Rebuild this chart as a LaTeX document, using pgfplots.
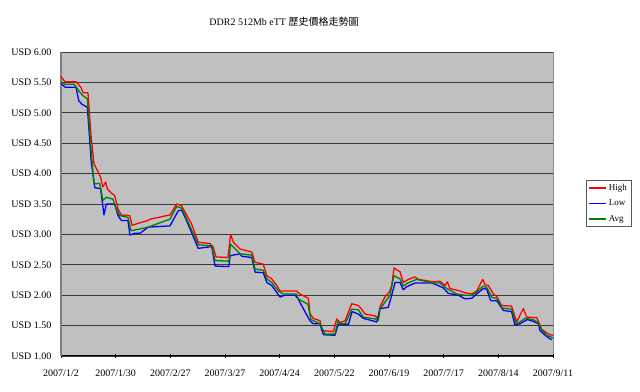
\documentclass[border=0pt]{standalone}
\usepackage{pgfplots}
\pgfplotsset{compat=1.18}
\usepackage{fontspec}
\setmainfont{Liberation Serif}
\newfontfamily\cjk{Noto Sans CJK TC}
\definecolor{plotbg}{HTML}{C0C0C0}
\definecolor{gridc}{HTML}{3A3A3A}
\definecolor{xlred}{HTML}{FF0000}
\definecolor{xlblue}{HTML}{0000FF}
\definecolor{xlgreen}{HTML}{008000}
\begin{document}
\begin{tikzpicture}[x=1pt,y=1pt]
\useasboundingbox (0,0) rectangle (640,391);
\node[font=\fontsize{10}{12}\selectfont] at (284,369) {DDR2 512Mb eTT {\cjk 歷史價格走勢圖}};
\begin{axis}[
  at={(61pt,35pt)}, anchor=south west,
  scale only axis, width=492pt, height=304pt,
  xmin=0, xmax=252, ymin=1, ymax=6,
  axis lines*=left,
  axis background/.style={fill=plotbg, draw=gray!90},
  x axis line style={black, line width=1pt, -},
  y axis line style={gray, line width=1.6pt, -},
  xtick={0,28,56,84,112,140,168,196,224,252},
  xticklabels={2007/1/2,2007/1/30,2007/2/27,2007/3/27,2007/4/24,2007/5/22,2007/6/19,2007/7/17,2007/8/14,2007/9/11},
  ytick={1,1.5,...,6},
  yticklabel={USD \pgfmathprintnumber[fixed,fixed zerofill,precision=2]{\tick}},
  /pgf/number format/assume math mode=true,
  ymajorgrids, grid style={gridc, line width=0.9pt},
  xtick style={black, line width=0.6pt},
  ytick style={draw=none},
  tick align=center, major tick length=4pt,
  tick label style={font=\fontsize{10}{12}\selectfont},
  xticklabel style={yshift=-8pt},
  yticklabel style={xshift=-4pt},
  legend style={at={(1.0665,0.502)}, anchor=west, draw=gray!70!black, fill=white,
    font=\fontsize{9}{11}\selectfont, inner sep=2pt, row sep=4pt},
  legend cell align=left,
]
\addlegendimage{draw=xlred, line width=1.6pt}
\addlegendentry{High}
\addlegendimage{draw=xlblue, line width=1.9pt}
\addlegendentry{Low}
\addlegendimage{draw=xlgreen, line width=1.6pt}
\addlegendentry{Avg}
\addplot[forget plot, color=xlred, line width=1.3pt, line join=round] coordinates {
(0,5.60) (2.0,5.51) (7.7,5.51) (10.2,5.42) (11.3,5.33) (13.8,5.33) (15.4,4.62)
(16.9,4.16) (19.0,4.03) (20.3,3.94) (21.4,3.78) (22.9,3.86) (23.7,3.75) (25.8,3.68)
(27.5,3.64) (29.2,3.42) (30.9,3.32) (35.2,3.31) (36.4,3.15) (40.3,3.19) (44.6,3.23)
(45.6,3.25) (55.8,3.32) (59.3,3.50) (61.8,3.47) (63.5,3.37) (66.9,3.17) (70.3,2.87)
(76.3,2.85) (78.0,2.79) (79.4,2.63) (85.5,2.62) (86.9,3.00) (88.3,2.87) (91.7,2.76)
(97.7,2.71) (99.4,2.54) (103.6,2.51) (105.4,2.32) (107.9,2.27) (110.5,2.16) (112.2,2.07)
(120.7,2.07) (122.4,2.02) (126.7,1.95) (127.5,1.70) (129.1,1.62) (132.7,1.58) (133.5,1.42)
(139.5,1.40) (141.2,1.61) (142.9,1.55) (145.5,1.58) (148.9,1.86) (152.3,1.83) (154.0,1.77)
(155.7,1.69) (160.8,1.66) (162.5,1.61) (163.4,1.81) (165.9,1.97) (168.5,2.07) (169.4,2.16)
(170.6,2.45) (172.8,2.40) (173.6,2.39) (175.3,2.21) (177.9,2.26) (181.3,2.30) (183.0,2.26)
(190.7,2.22) (194.1,2.23) (196.7,2.16) (197.9,2.22) (199.2,2.11) (204.4,2.07) (206.9,2.04)
(210.4,2.02) (212.9,2.07) (216.0,2.26) (217.2,2.17) (218.9,2.16) (221.4,2.02) (223.2,1.98)
(225.7,1.83) (230.8,1.82) (233.4,1.56) (236.8,1.78) (238.5,1.64) (243.7,1.63) (246.2,1.44)
(248.8,1.38) (250.5,1.35) (252,1.34)
};
\addplot[forget plot, color=xlblue, line width=1.3pt, line join=round] coordinates {
(0,5.48) (2.2,5.42) (7.7,5.42) (9.1,5.20) (10.8,5.14) (13.5,5.09) (15.5,4.19)
(17.3,3.77) (20.3,3.75) (22.0,3.32) (23.2,3.50) (27.5,3.50) (29.2,3.31) (30.9,3.23)
(34.3,3.23) (35.3,2.99) (37.9,3.02) (40.5,3.02) (44.7,3.12) (55.8,3.14) (60.1,3.39)
(61.8,3.40) (64.0,3.25) (70.3,2.77) (77.2,2.80) (78.9,2.48) (86.0,2.47) (86.6,2.65)
(91.7,2.68) (92.6,2.64) (97.7,2.62) (99.4,2.38) (103.6,2.37) (105.4,2.21) (107.9,2.16)
(112.2,1.97) (114.7,2.00) (119.9,2.00) (121.5,1.94) (122.4,1.88) (127.5,1.58) (129.2,1.53)
(132.7,1.53) (134.4,1.35) (140.3,1.34) (142.0,1.52) (147.2,1.52) (149.1,1.73) (152.3,1.69)
(154.8,1.62) (161.7,1.56) (163.4,1.78) (167.6,1.80) (169.4,2.00) (171.1,2.21) (173.6,2.21)
(175.3,2.09) (177.1,2.14) (181.3,2.20) (189.9,2.20) (192.4,2.17) (195.8,2.12) (198.4,2.03)
(203.5,2.00) (206.9,1.94) (210.4,1.95) (212.9,2.02) (216.3,2.11) (218.0,2.10) (220.1,1.91)
(223.2,1.91) (226.5,1.75) (230.8,1.73) (232.5,1.51) (235.1,1.53) (238.8,1.60) (241.9,1.57)
(244.5,1.53) (245.3,1.42) (248.4,1.33) (250.5,1.28) (251.5,1.27)
};
\addplot[forget plot, color=xlgreen, line width=1.3pt, line join=round] coordinates {
(0,5.51) (2.0,5.47) (6.7,5.47) (9.6,5.34) (11.3,5.28) (13.5,5.23) (15.5,4.36)
(16.9,3.83) (19.8,3.84) (21.5,3.56) (23.2,3.61) (26.6,3.58) (28.3,3.42) (30.1,3.31)
(34.3,3.28) (35.9,3.06) (40.5,3.09) (44.6,3.12) (55.8,3.25) (59.3,3.46) (61.8,3.43)
(64.0,3.28) (70.3,2.83) (77.2,2.81) (78.9,2.57) (86.0,2.56) (86.8,2.84) (91.7,2.68)
(97.7,2.66) (99.4,2.43) (103.6,2.41) (105.4,2.27) (107.9,2.21) (111.3,2.07) (113.7,2.02)
(120.7,2.02) (121.5,1.94) (126.5,1.85) (128.0,1.60) (132.7,1.53) (135.2,1.36) (140.3,1.36)
(141.9,1.58) (142.9,1.53) (145.5,1.53) (148.9,1.77) (152.3,1.76) (154.8,1.64) (160.8,1.61)
(162.5,1.58) (163.4,1.77) (168.5,2.00) (170.2,2.27) (170.6,2.32) (173.6,2.27) (175.3,2.15)
(177.6,2.20) (182.2,2.26) (190.5,2.20) (194.1,2.20) (197.6,2.11) (202.7,2.02) (206.9,2.00)
(210.4,2.00) (212.9,2.05) (216.1,2.15) (218.0,2.13) (220.8,1.96) (223.2,1.95) (225.9,1.79)
(230.8,1.77) (233.1,1.53) (235.1,1.56) (237.7,1.62) (241.8,1.60) (244.3,1.55) (246.2,1.43)
(248.8,1.34) (252,1.30)
};
\end{axis}
\end{tikzpicture}
\end{document}
